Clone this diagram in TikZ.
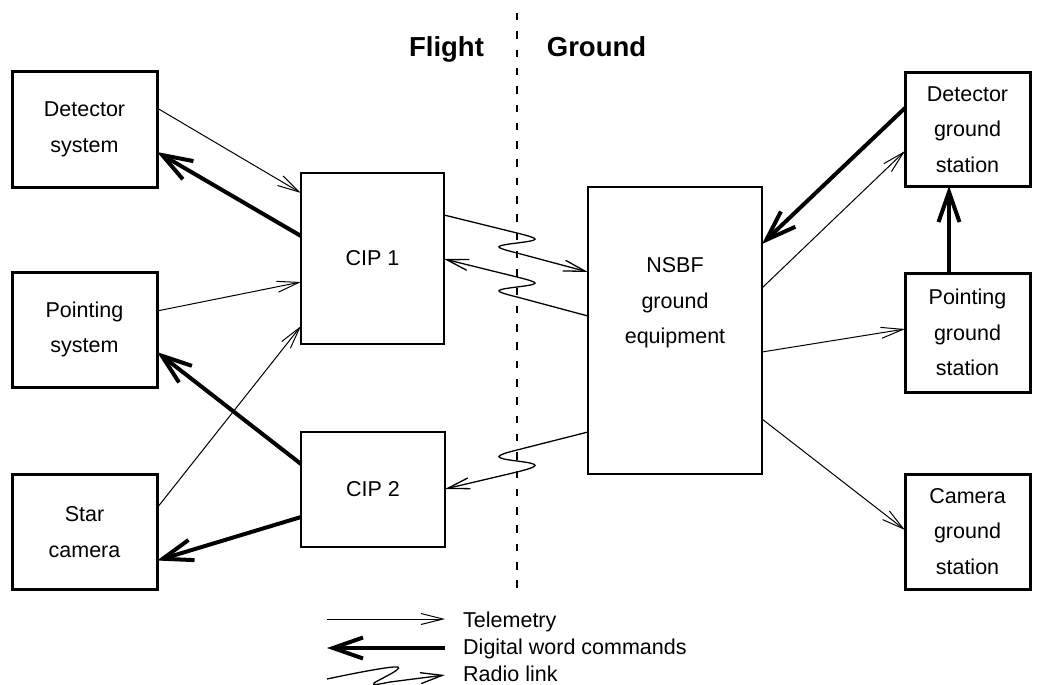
\documentclass[tikz,border=0pt]{standalone}
\usepackage{fontspec}
\setmainfont{Liberation Sans}
\usetikzlibrary{arrows.meta,calc}
\begin{document}
\begin{tikzpicture}[x=1pt,y=-1pt,
  txt/.style={font=\fontsize{21.5}{35.5}\selectfont, align=center},
  bbox/.style={draw, line width=3pt, outer sep=0pt, inner sep=0pt, txt},
  cbox/.style={draw, line width=1.7pt, outer sep=0pt, inner sep=0pt, txt},
  tele/.style={line width=1pt, -{Straight Barb[length=22pt,width=11pt]}},
  cmd/.style={line width=4pt, -{Straight Barb[length=30pt,width=21pt]}},
  radio/.style={line width=1.3pt, -{Straight Barb[length=22pt,width=11pt]}},
  radiorev/.style={line width=1.3pt, {Straight Barb[length=22pt,width=11pt]}-},
  divider/.style={line width=2pt, dash pattern=on 7.5pt off 10.8pt},
  title/.style={font=\fontsize{27.5}{33}\selectfont\bfseries, anchor=base, inner sep=0pt},
  legtxt/.style={txt, anchor=base west, inner sep=0pt},
]
\useasboundingbox (0,0) rectangle (1039,685);

% flight side
\node[bbox, minimum width=145pt, minimum height=115pt] (det)  at (84.5,129.5) {Detector\\system};
\node[bbox, minimum width=145pt, minimum height=115pt] (pnt)  at (84.5,329.5) {Pointing\\system};
\node[bbox, minimum width=145pt, minimum height=115pt] (star) at (84.5,532) {Star\\camera};
\node[cbox, minimum width=143pt, minimum height=171pt] (cip1) at (372.5,258.5) {CIP 1};
\node[cbox, minimum width=144pt, minimum height=115pt] (cip2) at (373,489.5) {CIP 2};

% ground side
\node[cbox, minimum width=174pt, minimum height=287pt] (nsbf) at (675,330.5) {};
\node[txt] (nsbftxt) at (675,303) {NSBF\\ground\\equipment};
\node[bbox, minimum width=125pt, minimum height=113pt] (dgs) at (967.5,129.5) {Detector\\ground\\station};
\node[bbox, minimum width=125pt, minimum height=119pt] (pgs) at (967.5,332.5) {Pointing\\ground\\station};
\node[bbox, minimum width=125pt, minimum height=115pt] (cgs) at (967.5,531.5) {Camera\\ground\\station};

% divider and titles
\coordinate (dtop) at (517,13);
\coordinate (dbot) at (517,590);
\draw[divider] (dtop) -- (dbot);
\node[title] (tflight) at (446.5,57) {Flight};
\node[title] (tground) at (596.5,57) {Ground};

% flight connectors
\draw[tele] ($(det.north east)+(0,36)$) -- ($(cip1.north west)+(0,20)$);
\draw[cmd]  ($(cip1.north west)+(0,63)$) -- ($(det.north east)+(0,80)$);
\draw[tele] ($(pnt.north east)+(0,39)$) -- ($(cip1.north west)+(0,109)$);
\draw[tele] ($(star.north east)+(0,33.5)$) -- ($(cip1.south west)+(0,-18)$);
\draw[cmd]  ($(cip2.north west)+(0,32)$) -- ($(pnt.north east)+(0,80)$);
\draw[cmd]  ($(cip2.north west)+(0,85)$) -- ($(star.north east)+(0,86)$);

% radio links
\draw[radio] ($(cip1.north east)+(0,42)$) -- (517,233)
  .. controls +(24,6) and +(24,-3) .. (517,243)
  .. controls +(-24,3) and +(-24,-6) .. (517,253)
  -- ($(nsbf.north west)+(0,85)$);
\draw[radiorev] ($(cip1.north east)+(0,86)$) -- (517,277)
  .. controls +(24,6) and +(24,-3) .. (517,287)
  .. controls +(-24,3) and +(-24,-6) .. (517,297)
  -- ($(nsbf.north west)+(0,129)$);
\draw[radio] ($(nsbf.north west)+(0,245)$) -- (517,450)
  .. controls +(-24,6) and +(-24,-3) .. (517,461)
  .. controls +(24,3) and +(24,-6) .. (517,472)
  -- ($(cip2.north east)+(0,57)$);

% ground connectors
\draw[cmd]  ($(dgs.north west)+(0,35)$) -- ($(nsbf.north east)+(0,57)$);
\draw[tele] ($(nsbf.north east)+(0,101)$) -- ($(dgs.north west)+(0,78)$);
\draw[tele] ($(nsbf.north east)+(0,165)$) -- ($(pgs.north west)+(0,56)$);
\draw[tele] ($(nsbf.north east)+(0,232)$) -- ($(cgs.north west)+(0,56)$);
\draw[cmd]  ($(pgs.north)+(-18.5,0)$) -- ($(dgs.south)+(-18.5,0)$);

% legend
\coordinate (l1a) at (327,619);
\coordinate (l1b) at (445,619);
\coordinate (l2a) at (445,648);
\coordinate (l2b) at (327,648);
\coordinate (l3a) at (327,679);
\coordinate (l3b) at (445,675);
\draw[tele] (l1a) -- (l1b);
\draw[cmd] (l2a) -- (l2b);
\draw[radio] (l3a) .. controls (360,672) and (392,666) .. (398,667)
  .. controls (403,669) and (378,680) .. (374,683)
  .. controls (371,686) and (380,684) .. (390,682) -- (l3b);
\node[legtxt] (lg1) at (463,627.5) {Telemetry};
\node[legtxt] (lg2) at (463,654.5) {Digital word commands};
\node[legtxt] (lg3) at (463,681.5) {Radio link};
\end{tikzpicture}
\end{document}
